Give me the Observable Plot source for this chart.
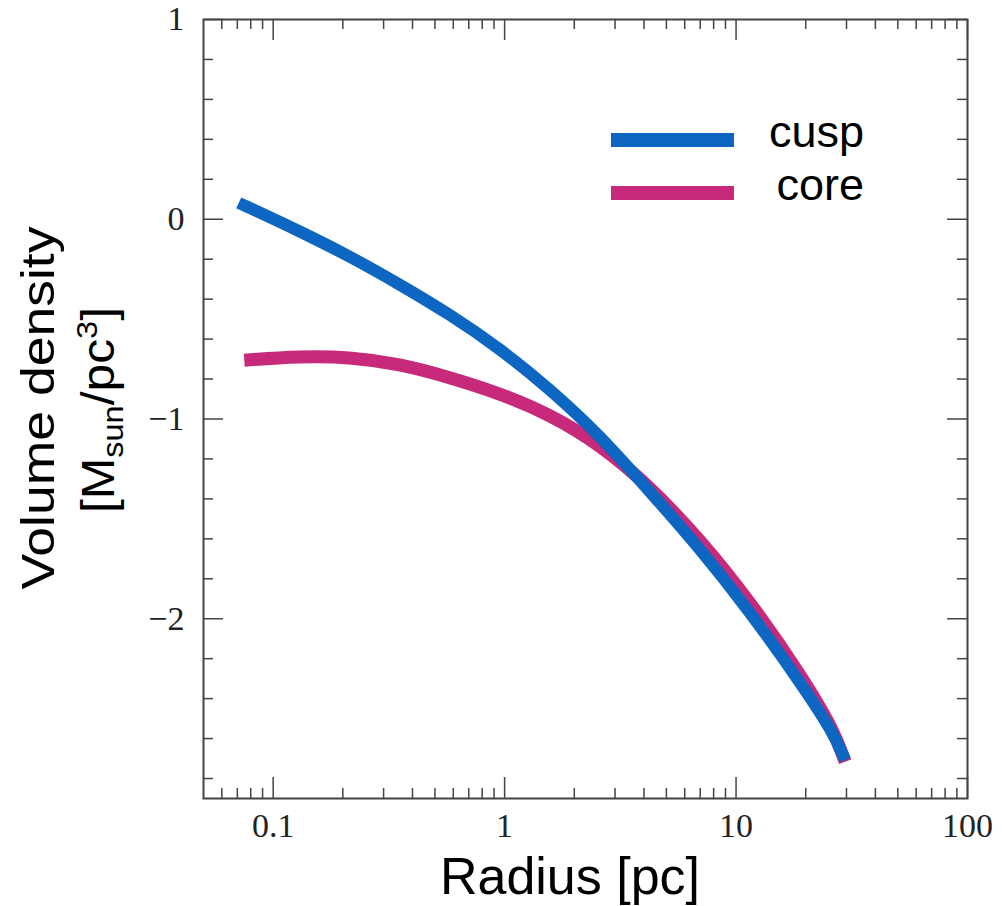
<!DOCTYPE html>
<html>
<head>
<meta charset="utf-8">
<script src="https://cdn.jsdelivr.net/npm/d3@7"></script>
<script src="https://cdn.jsdelivr.net/npm/@observablehq/plot@0.6"></script>
<style>
  html, body { margin: 0; padding: 0; background: #fff; }
  #chart { width: 1002px; height: 906px; }
</style>
</head>
<body>
<div id="chart"></div>
<script>
// ---- data ----
const seriesNames = ["cusp", "core"];
const seriesColors = ["#0d66c2", "#c72a7a"];

const cuspRadius  = [0.071, 0.13, 0.213, 0.351, 0.578, 0.951, 1.57, 2.58, 4.24, 6.99, 11.5, 18.9, 26.3, 29.6];
const cuspDensity = [0.082, -0.059, -0.184, -0.325, -0.475, -0.646, -0.851, -1.082, -1.363, -1.649, -1.966, -2.317, -2.568, -2.708];

const coreRadius  = [0.075, 0.13, 0.213, 0.351, 0.578, 0.951, 1.57, 2.58, 4.24, 6.99, 11.5, 18.9, 26.3, 29.6];
const coreDensity = [-0.706, -0.686, -0.689, -0.724, -0.791, -0.871, -0.977, -1.127, -1.338, -1.604, -1.915, -2.276, -2.552, -2.716];

const xMajor = [0.1, 1, 10, 100];
const xMajorLabels = ["0.1", "1", "10", "100"];
const xMinor = [0.06, 0.07, 0.08, 0.09, 0.2, 0.3, 0.4, 0.5, 0.6, 0.7, 0.8, 0.9,
                2, 3, 4, 5, 6, 7, 8, 9, 20, 30, 40, 50, 60, 70, 80, 90];
const yMajor = [1, 0, -1, -2];
const yMajorLabels = ["1", "0", "\u22121", "\u22122"];
const yMinor = [0.8, 0.6, 0.4, 0.2, -0.2, -0.4, -0.6, -0.8, -1.2, -1.4, -1.6, -1.8,
                -2.2, -2.4, -2.6, -2.8];

const xLabel = "Radius [pc]";
const yLabelLine1 = "Volume density";

// ---- layout ----
const W = 1002, H = 906;
const mL = 203, mR = 35, mT = 19, mB = 108;
const fw = W - mL - mR, fh = H - mT - mB;
const axisColor = "#444";

const cusp = cuspRadius.map((r, i) => ({r, d: cuspDensity[i], s: seriesNames[0]}));
const core = coreRadius.map((r, i) => ({r, d: coreDensity[i], s: seriesNames[1]}));

const svg = Plot.plot({
  width: W, height: H,
  marginLeft: mL, marginRight: mR, marginTop: mT, marginBottom: mB,
  style: {background: "#fff"},
  x: {type: "log", domain: [0.05, 100]},
  y: {domain: [-2.9, 1]},
  color: {domain: seriesNames, range: seriesColors},
  marks: [
    Plot.line(core, {x: "r", y: "d", stroke: "s", strokeWidth: 13, curve: "basis", strokeLinecap: "butt"}),
    Plot.line(cusp, {x: "r", y: "d", stroke: "s", strokeWidth: 12, curve: "basis", strokeLinecap: "butt"}),
    // inward tick marks on all four sides
    Plot.tickX(xMinor, {x: d => d, insetTop: fh - 10, stroke: axisColor, strokeWidth: 1.5}),
    Plot.tickX(xMinor, {x: d => d, insetBottom: fh - 10, stroke: axisColor, strokeWidth: 1.5}),
    Plot.tickX(xMajor, {x: d => d, insetTop: fh - 21, stroke: axisColor, strokeWidth: 1.5}),
    Plot.tickX(xMajor, {x: d => d, insetBottom: fh - 21, stroke: axisColor, strokeWidth: 1.5}),
    Plot.tickY(yMinor, {y: d => d, insetRight: fw - 10, stroke: axisColor, strokeWidth: 1.5}),
    Plot.tickY(yMinor, {y: d => d, insetLeft: fw - 10, stroke: axisColor, strokeWidth: 1.5}),
    Plot.tickY(yMajor, {y: d => d, insetRight: fw - 20, stroke: axisColor, strokeWidth: 1.5}),
    Plot.tickY(yMajor, {y: d => d, insetLeft: fw - 20, stroke: axisColor, strokeWidth: 1.5}),
    Plot.axisX(xMajor, {tickSize: 0, tickPadding: 14, label: null,
      tickFormat: d => xMajorLabels[xMajor.indexOf(d)],
      fontSize: 34, fontFamily: "Liberation Serif", fill: "#222"}),
    Plot.axisY(yMajor, {tickSize: 0, tickPadding: 19, label: null,
      tickFormat: d => yMajorLabels[yMajor.indexOf(d)],
      fontSize: 34, fontFamily: "Liberation Serif", fill: "#222"}),
    Plot.frame({stroke: axisColor, strokeWidth: 2})
  ]
});

document.getElementById("chart").appendChild(svg);

// ---- axis titles and legend ----
const s = d3.select(svg);
const sans = "Liberation Sans, Arial, sans-serif";

s.append("text")
  .attr("x", 570).attr("y", 894)
  .attr("text-anchor", "middle")
  .attr("font-family", sans).attr("font-size", 52).attr("fill", "#000")
  .text(xLabel);

s.append("text")
  .attr("transform", "translate(54,408) rotate(-90)")
  .attr("text-anchor", "middle")
  .attr("font-family", sans).attr("font-size", 46).attr("fill", "#000")
  .attr("textLength", 363).attr("lengthAdjust", "spacingAndGlyphs")
  .text(yLabelLine1);

const l2 = s.append("text")
  .attr("transform", "translate(114,410) rotate(-90)")
  .attr("text-anchor", "middle")
  .attr("font-family", sans).attr("font-size", 46).attr("fill", "#000")
  .attr("textLength", 206).attr("lengthAdjust", "spacingAndGlyphs");
l2.append("tspan").text("[M");
l2.append("tspan").attr("font-size", 30).attr("dy", 9).text("sun");
l2.append("tspan").attr("dy", -9).text("/pc");
l2.append("tspan").attr("font-size", 30).attr("dy", -17).text("3");
l2.append("tspan").attr("dy", 17).text("]");

const legend = s.append("g");
seriesNames.forEach((name, i) => {
  const cy = [140, 193][i];
  legend.append("line")
    .attr("x1", 611).attr("x2", 734).attr("y1", cy).attr("y2", cy)
    .attr("stroke", seriesColors[i]).attr("stroke-width", 14);
  legend.append("text")
    .attr("x", 864).attr("y", [147, 200][i])
    .attr("text-anchor", "end")
    .attr("font-family", sans).attr("font-size", 45).attr("fill", "#000")
    .text(name);
});
</script>
</body>
</html>
